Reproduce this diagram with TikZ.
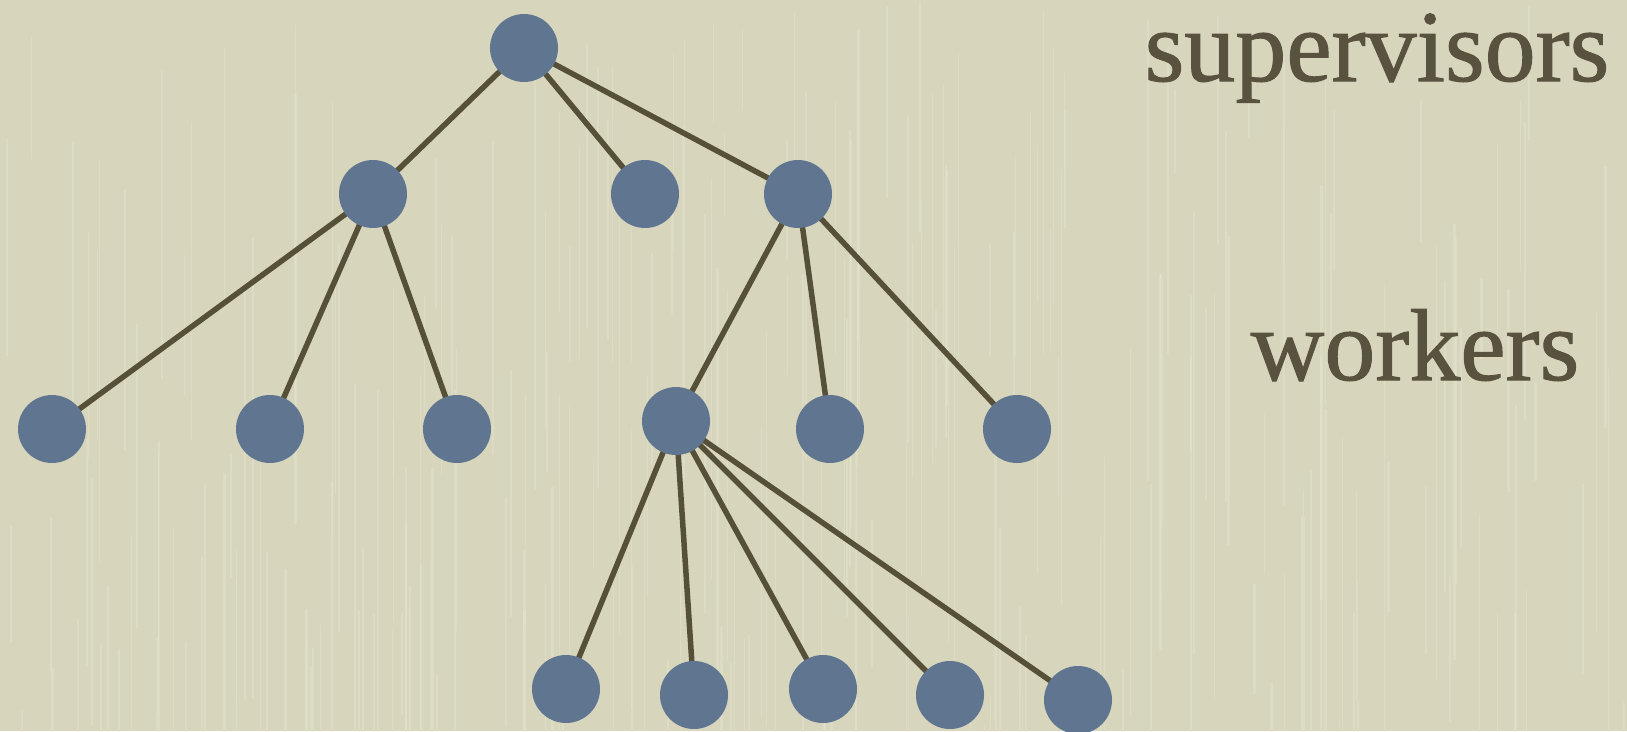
\documentclass[tikz,border=0pt]{standalone}
\usepackage{fontspec}
\setmainfont{Liberation Serif}
\newfontfamily\lblfont[FakeBold=1.0]{Liberation Serif}
\usetikzlibrary{backgrounds}
\definecolor{bg}{RGB}{215,213,188}
\definecolor{streak}{RGB}{232,231,210}
\definecolor{nodefill}{RGB}{96,118,144}
\definecolor{edgecol}{RGB}{86,80,56}
\definecolor{textcol}{RGB}{88,82,62}
\begin{document}
\begin{tikzpicture}[x=1pt,y=-1pt,
  dot/.style={circle,fill=nodefill,draw=none,minimum size=68pt,inner sep=0pt},
  edge/.style={draw=edgecol,line width=5.5pt},
  lbl/.style={text=textcol,font=\lblfont\fontsize{102}{108}\selectfont,anchor=base,inner sep=0pt,text height=66pt,text depth=24pt}]
\useasboundingbox (0,0) rectangle (1627,731);
% nodes
\node[dot] (r) at (524,48) {};
\node[dot] (a) at (373,194) {};
\node[dot] (b) at (645,194) {};
\node[dot] (c) at (798,194) {};
\node[dot] (a1) at (52,429) {};
\node[dot] (a2) at (270,429) {};
\node[dot] (a3) at (457,429) {};
\node[dot] (c1) at (676,421) {};
\node[dot] (c2) at (830,429) {};
\node[dot] (c3) at (1017,429) {};
\node[dot] (d1) at (566,689) {};
\node[dot] (d2) at (694,695) {};
\node[dot] (d3) at (823,689) {};
\node[dot] (d4) at (950,695) {};
\node[dot] (d5) at (1078,700) {};
% labels
\node[lbl] (sup) at (1377,81) {supervisors};
\node[lbl] (wrk) at (1415,380) {workers};
\begin{pgfonlayer}{background}
\fill[bg] (0,0) rectangle (1627,731);
\pgfmathsetseed{7}
\foreach \i in {1,...,260}{
  \pgfmathsetmacro{\xx}{rnd*1627}
  \pgfmathsetmacro{\ya}{rnd*731}
  \pgfmathsetmacro{\yl}{80+rnd*400}
  \pgfmathsetmacro{\ww}{0.6+rnd*2}
  \draw[streak,opacity=0.35,line width=\ww pt] (\xx,\ya) -- ++(0,\yl);
}
\path[edge] (r.center) -- (a.center) (r.center) -- (b.center) (r.center) -- (c.center)
  (a.center) -- (a1.center) (a.center) -- (a2.center) (a.center) -- (a3.center)
  (c.center) -- (c1.center) (c.center) -- (c2.center) (c.center) -- (c3.center)
  (c1.center) -- (d1.center) (c1.center) -- (d2.center) (c1.center) -- (d3.center)
  (c1.center) -- (d4.center) (c1.center) -- (d5.center);
\end{pgfonlayer}
\end{tikzpicture}
\end{document}
